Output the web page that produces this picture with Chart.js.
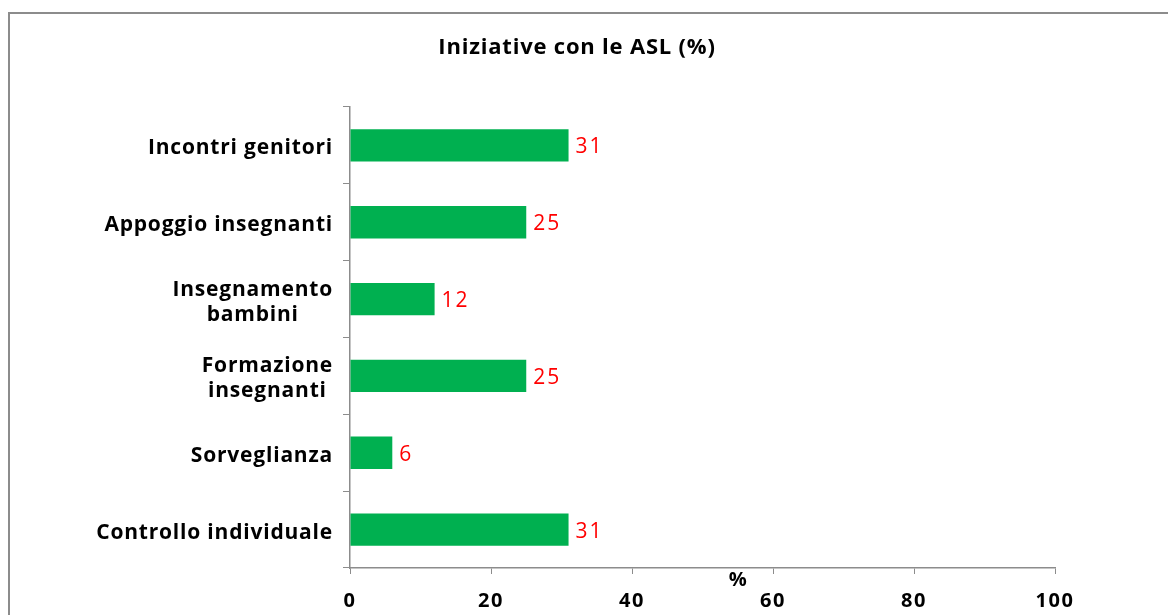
<!DOCTYPE html>
<html>
<head>
<meta charset="utf-8">
<script src="https://cdn.jsdelivr.net/npm/chart.js@4/dist/chart.umd.min.js"></script>
<style>
    body { margin: 0; background: #fff; }
    #wrap { width: 1168px; height: 615px; position: relative; }
</style>
</head>
<body>
<div id="wrap"><canvas id="asl" width="1168" height="615"></canvas></div>
<script>
// dati
const categorie = ['Incontri genitori', 'Appoggio insegnanti', ['Insegnamento', 'bambini'], ['Formazione', 'insegnanti'], 'Sorveglianza', 'Controllo individuale'];
const valori = [31, 25, 12, 25, 6, 31];
const tickX = [0, 20, 40, 60, 80, 100];
const titolo = 'Iniziative con le ASL (%)';
const titoloAsse = '%';

const FONT = "'Open Sans', sans-serif";

// cornice, titolo, etichette categorie e valori disegnati a mano
const extraPlugin = {
    id: 'extra',
    beforeDraw(chart) {
        const ctx = chart.ctx;
        ctx.save();
        ctx.strokeStyle = '#8c8c8c';
        ctx.lineWidth = 2;
        ctx.strokeRect(9, 13, 1200, 700);
        ctx.restore();
        // spaziatura per le etichette dell'asse x
        ctx.letterSpacing = '1.5px';
    },
    afterDraw(chart) {
        const ctx = chart.ctx;
        const y = chart.scales.y;
        const x = chart.scales.x;
        ctx.save();
        ctx.fillStyle = '#000';
        ctx.textAlign = 'center';
        ctx.textBaseline = 'middle';

        ctx.font = 'bold 22px ' + FONT;
        ctx.letterSpacing = '0.8px';
        ctx.fillText(titolo, 577, 48);

        // etichette asse y
        ctx.font = 'bold 21px ' + FONT;
        ctx.letterSpacing = '0.8px';
        const right = chart.chartArea.left - 17;
        categorie.forEach((lab, i) => {
            const cy = y.getPixelForValue(i) + 3;
            if (Array.isArray(lab)) {
                const w = Math.max(...lab.map(l => ctx.measureText(l).width));
                const cx = right - w / 2;
                const lh = 25;
                lab.forEach((l, j) => {
                    ctx.fillText(l, cx, cy + (j - (lab.length - 1) / 2) * lh);
                });
            } else {
                ctx.textAlign = 'right';
                ctx.fillText(lab, right, cy);
                ctx.textAlign = 'center';
            }
        });

        // titolo asse x
        ctx.letterSpacing = '0px';
        ctx.font = 'bold 20px ' + FONT;
        ctx.fillText(titoloAsse, x.getPixelForValue(55), 580);

        // valori in rosso
        ctx.fillStyle = '#ff0000';
        ctx.font = '21px ' + FONT;
        ctx.letterSpacing = '2px';
        ctx.textAlign = 'left';
        chart.getDatasetMeta(0).data.forEach((bar, i) => {
            ctx.fillText(String(valori[i]), bar.x + 7, bar.y + 2);
        });
        ctx.restore();
        ctx.letterSpacing = '0px';
    }
};

const chartAsl = new Chart(document.getElementById('asl').getContext('2d'), {
    type: 'bar',
    data: {
        labels: categorie,
        datasets: [{
            data: valori,
            backgroundColor: '#00b050',
            borderWidth: 0,
            barPercentage: 0.42,
            categoryPercentage: 1
        }]
    },
    options: {
        indexAxis: 'y',
        responsive: false,
        animation: false,
        layout: {
            padding: { top: 107, right: 113, left: 0, bottom: 0 }
        },
        plugins: {
            legend: { display: false },
            tooltip: { enabled: false },
            title: { display: false }
        },
        scales: {
            y: {
                ticks: { display: false },
                grid: {
                    drawOnChartArea: false,
                    drawTicks: true,
                    tickLength: 7,
                    color: '#8c8c8c'
                },
                border: { color: '#8c8c8c', width: 1.5 },
                afterFit: function(scale) { scale.width = 350; }
            },
            x: {
                min: 0,
                max: 100,
                afterBuildTicks: function(scale) {
                    scale.ticks = tickX.map(v => ({ value: v }));
                },
                ticks: {
                    color: '#000',
                    padding: 15,
                    font: { size: 20, weight: 'bold', family: FONT }
                },
                grid: {
                    drawOnChartArea: false,
                    drawTicks: true,
                    tickLength: 6,
                    color: '#8c8c8c'
                },
                border: { color: '#8c8c8c', width: 1.5 },
                afterFit: function(scale) { scale.height = 47; }
            }
        }
    },
    plugins: [extraPlugin]
});
</script>
</body>
</html>
